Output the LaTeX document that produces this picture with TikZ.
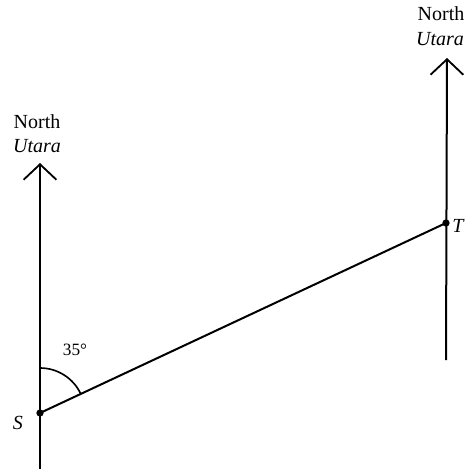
\documentclass[tikz,border=0pt]{standalone}
\usepackage{fontspec}
\setmainfont{Liberation Serif}
\usetikzlibrary{arrows.meta,positioning}

\begin{document}
\begin{tikzpicture}[x=0.55pt,y=-0.55pt,
  line/.style={line width=1.1pt,black},
  north/.style={line width=1.1pt,-{Straight Barb[length=8.5pt,width=18pt,line width=1pt]}},
  lbl/.style={font=\fontsize{11}{12}\selectfont,inner sep=0pt},
  dot/.style={circle,fill=black,inner sep=0pt,minimum size=4pt}]
  \useasboundingbox (0,0) rectangle (465,469);
  \clip (0,0) rectangle (465,469);
  % points
  \node[dot] (S) at (40,413) {};
  \node[dot] (T) at (446,223) {};
  \coordinate (Stop) at (40,163);
  \coordinate (Sbot) at (40,469);
  \coordinate (Ttop) at (447,58);
  \coordinate (Tbot) at (446,360);
  % north lines
  \draw[north] (Sbot) -- (Stop);
  \draw[north] (Tbot) -- (Ttop);
  \draw[line] (S.center) -- (T.center);
  % angle
  \draw[line,line width=0.9pt] (S.center) ++(270:45) arc[start angle=270,end angle=334.9,radius=45];
  \node[lbl,font=\fontsize{9.5}{11}\selectfont] (ang) at (75,350) {35\textdegree};
  % labels
  \node[lbl] (nS) at (37,122) {North};
  \node[lbl,font=\fontsize{11}{12}\selectfont\itshape] (uS) at (37,146) {Utara};
  \node[lbl] (nT) at (441,14) {North};
  \node[lbl,font=\fontsize{11}{12}\selectfont\itshape] (uT) at (440,39) {Utara};
  \node[lbl,font=\fontsize{11}{12}\selectfont\itshape] (lS) at (18,423) {S};
  \node[lbl,font=\fontsize{11}{12}\selectfont\itshape,anchor=west] (lT) at (452,226) {T};
\end{tikzpicture}
\end{document}
